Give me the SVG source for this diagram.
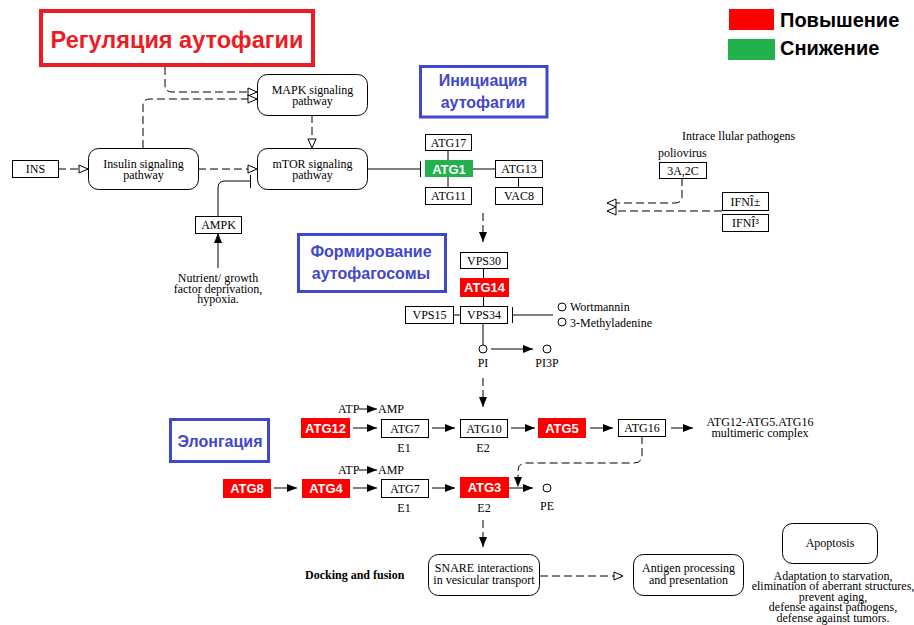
<svg xmlns="http://www.w3.org/2000/svg" width="914" height="625" viewBox="0 0 914 625">
<style>
.box{fill:#fff;stroke:#000;stroke-width:1}
.rbox{fill:#fff;stroke:#000;stroke-width:1}
.red{fill:#ff0000}
.grn{fill:#22b14c}
.t{font-family:"Liberation Serif","Times New Roman",serif;font-size:12px;text-anchor:middle;fill:#000}
.ts{font-family:"Liberation Serif","Times New Roman",serif;font-size:12px;fill:#000}
.w{font-family:"Liberation Sans",Arial,sans-serif;font-weight:bold;font-size:13px;fill:#fff;text-anchor:middle}
.lab{fill:#fff;stroke:#3f48cc;stroke-width:3}
.lt{font-family:"Liberation Sans",Arial,sans-serif;font-weight:bold;font-size:16px;fill:#3f48cc;text-anchor:middle}
.ln{stroke:#000;stroke-width:1;fill:none}
.ds{stroke-dasharray:8 4}
.circ{fill:#fff;stroke:#000;stroke-width:1}
</style>
<defs>
<marker id="af" viewBox="0 0 10 8" refX="10" refY="4" markerWidth="10" markerHeight="8" orient="auto" markerUnits="userSpaceOnUse"><path d="M0,0L10,4L0,8z" fill="#000"/></marker>
<marker id="ao" viewBox="-1 -1 11 10" refX="9" refY="4" markerWidth="11" markerHeight="10" orient="auto" markerUnits="userSpaceOnUse"><path d="M0,0L9,4L0,8z" fill="#fff" stroke="#000" stroke-width="1"/></marker>
</defs>
<rect width="914" height="625" fill="#fff"/>

<g id="title">
<rect x="41" y="11" width="272" height="54" fill="#fff" stroke="#ed1c24" stroke-width="4"/>
<text x="177" y="48" font-family="Liberation Sans,Arial,sans-serif" font-weight="bold" font-size="23.5" fill="#ed1c24" text-anchor="middle">Регуляция аутофагии</text>
</g>

<g id="legend">
<rect x="729" y="9" width="45" height="21" fill="#ff0000"/>
<rect x="728" y="39" width="47" height="21" fill="#22b14c"/>
<text x="780" y="27" font-family="Liberation Sans,Arial,sans-serif" font-weight="bold" font-size="20" fill="#000">Повышение</text>
<text x="780" y="55" font-family="Liberation Sans,Arial,sans-serif" font-weight="bold" font-size="20" fill="#000">Снижение</text>
</g>

<g id="label-init"><rect class="lab" x="420.5" y="66.5" width="126.5" height="50.5"/><text class="lt" x="483" y="86">Инициация</text><text class="lt" x="483" y="108">аутофагии</text></g>
<g id="label-form"><rect class="lab" x="298.5" y="234.5" width="147" height="57"/><text class="lt" x="371" y="257">Формирование</text><text class="lt" x="371" y="279">аутофагосомы</text></g>
<g id="label-elong"><rect class="lab" x="170.5" y="419.5" width="98" height="42"/><text class="lt" x="220" y="447">Элонгация</text></g>

<g id="connectors">
<path class="ln ds" d="M165,67V85Q165,92 172,92H257" marker-end="url(#ao)"/>
<path class="ln ds" d="M143,148V106Q143,99 150,99H257" marker-end="url(#ao)"/>
<path class="ln ds" d="M58,169H88" marker-end="url(#ao)"/>
<path class="ln ds" d="M198,169H257" marker-end="url(#ao)"/>
<path class="ln ds" d="M312,115V148" marker-end="url(#ao)"/>
<path class="ln" d="M218,216V188Q218,181 225,181H250"/>
<path class="ln" d="M250.5,175V188"/>
<path class="ln" d="M218,268V233" marker-end="url(#af)"/>
<path class="ln" d="M367,169H420"/>
<path class="ln" d="M420.5,161V177"/>
<path class="ln" d="M448,150V160M448,177V187M473,169H495M518.5,177V187"/>
<path class="ln ds" d="M483,213V242" marker-end="url(#af)"/>
<path class="ln" d="M483.5,268V278M483.5,297V306M453,315H460"/>
<path class="ln" d="M512.5,307V323M512.5,315H553"/>
<path class="ln" d="M483,323V345"/>
<path class="ln" d="M491,349H533" marker-end="url(#af)"/>
<path class="ln ds" d="M483,378V407" marker-end="url(#af)"/>
<path class="ln" d="M359,409H377" marker-end="url(#af)"/>
<path class="ln" d="M353,428H377" marker-end="url(#af)"/>
<path class="ln" d="M432,428H455" marker-end="url(#af)"/>
<path class="ln" d="M511,428H535" marker-end="url(#af)"/>
<path class="ln" d="M590,428H613" marker-end="url(#af)"/>
<path class="ln" d="M671,428H693" marker-end="url(#af)"/>
<path class="ln ds" d="M642,436V455Q642,463 634,463H526Q518,463 518,471V487" marker-end="url(#af)"/>
<path class="ln" d="M359,470H377" marker-end="url(#af)"/>
<path class="ln" d="M274,488H297" marker-end="url(#af)"/>
<path class="ln" d="M353,488H377" marker-end="url(#af)"/>
<path class="ln" d="M432,488H455" marker-end="url(#af)"/>
<path class="ln" d="M509,488H533" marker-end="url(#af)"/>
<path class="ln ds" d="M483,520V547" marker-end="url(#af)"/>
<path class="ln ds" d="M540,576H623" marker-end="url(#ao)"/>
<path class="ln ds" d="M682,178V196Q682,203 675,203H607" marker-end="url(#ao)"/>
<path class="ln ds" d="M722,211H607" marker-end="url(#ao)"/>
</g>

<g id="INS"><rect class="box" x="12.5" y="160.5" width="46" height="17"/><text class="t" x="35.5" y="173">INS</text></g>
<g id="insulin"><rect class="rbox" x="88.5" y="148.5" width="110" height="41" rx="10"/><text class="t" x="143.5" y="168">Insulin signaling</text><text class="t" x="143.5" y="179">pathway</text></g>
<g id="MAPK"><rect class="rbox" x="257.5" y="74.5" width="110" height="41" rx="10"/><text class="t" x="312.5" y="94">MAPK signaling</text><text class="t" x="312.5" y="105">pathway</text></g>
<g id="mTOR"><rect class="rbox" x="257.5" y="148.5" width="110" height="41" rx="10"/><text class="t" x="312.5" y="168">mTOR signaling</text><text class="t" x="312.5" y="179">pathway</text></g>
<g id="AMPK"><rect class="box" x="195.5" y="216.5" width="46" height="17"/><text class="t" x="218.5" y="229">AMPK</text></g>
<g id="nutrient"><text class="t" x="218" y="282">Nutrient/ growth</text><text class="t" x="218" y="293">factor deprivation,</text><text class="t" x="218" y="303">hypoxia.</text></g>

<g id="ATG17"><rect class="box" x="425.5" y="134.5" width="46" height="16"/><text class="t" x="448.5" y="147">ATG17</text></g>
<g id="ATG1"><rect class="grn" x="425" y="160" width="48" height="17"/><text class="w" x="449" y="174">ATG1</text></g>
<g id="ATG11"><rect class="box" x="425.5" y="187.5" width="46" height="17"/><text class="t" x="448.5" y="200">ATG11</text></g>
<g id="ATG13"><rect class="box" x="495.5" y="160.5" width="47" height="17"/><text class="t" x="519" y="173">ATG13</text></g>
<g id="VAC8"><rect class="box" x="495.5" y="187.5" width="47" height="17"/><text class="t" x="519" y="200">VAC8</text></g>

<g id="VPS30"><rect class="box" x="460.5" y="252.5" width="47" height="16"/><text class="t" x="484" y="265">VPS30</text></g>
<g id="ATG14"><rect class="red" x="460" y="278" width="49" height="19"/><text class="w" x="484.5" y="292">ATG14</text></g>
<g id="VPS34"><rect class="box" x="460.5" y="306.5" width="47" height="17"/><text class="t" x="484" y="319">VPS34</text></g>
<g id="VPS15"><rect class="box" x="405.5" y="306.5" width="48" height="17"/><text class="t" x="429.5" y="319">VPS15</text></g>
<g id="wortmannin"><circle class="circ" cx="562" cy="307" r="4"/><text class="ts" x="570" y="311">Wortmannin</text></g>
<g id="methyladenine"><circle class="circ" cx="562" cy="322" r="4"/><text class="ts" x="570" y="327">3-Methyladenine</text></g>
<g id="PI"><circle class="circ" cx="483" cy="349" r="4"/><text class="t" x="483" y="367">PI</text></g>
<g id="PI3P"><circle class="circ" cx="547" cy="349" r="4"/><text class="t" x="547" y="367">PI3P</text></g>

<g id="atp1"><text class="ts" x="338" y="413">ATP</text><text class="ts" x="378" y="413">AMP</text></g>
<g id="ATG12"><rect class="red" x="301" y="418" width="49" height="20"/><text class="w" x="325.5" y="433">ATG12</text></g>
<g id="ATG7a"><rect class="box" x="381.5" y="419.5" width="47" height="18"/><text class="t" x="405" y="433">ATG7</text><text class="t" x="404" y="452">E1</text></g>
<g id="ATG10"><rect class="box" x="460.5" y="419.5" width="47" height="18"/><text class="t" x="484" y="433">ATG10</text><text class="t" x="483" y="452">E2</text></g>
<g id="ATG5"><rect class="red" x="538" y="418" width="48" height="20"/><text class="w" x="562" y="433">ATG5</text></g>
<g id="ATG16"><rect class="box" x="618.5" y="419.5" width="47" height="17"/><text class="t" x="642" y="432">ATG16</text></g>
<g id="complex"><text class="t" x="760" y="426">ATG12-ATG5.ATG16</text><text class="t" x="760" y="437">multimeric complex</text></g>

<g id="atp2"><text class="ts" x="338" y="474">ATP</text><text class="ts" x="378" y="474">AMP</text></g>
<g id="ATG8"><rect class="red" x="223" y="479" width="48" height="19"/><text class="w" x="247" y="493">ATG8</text></g>
<g id="ATG4"><rect class="red" x="302" y="479" width="48" height="19"/><text class="w" x="326" y="493">ATG4</text></g>
<g id="ATG7b"><rect class="box" x="381.5" y="479.5" width="47" height="18"/><text class="t" x="405" y="493">ATG7</text><text class="t" x="404" y="512">E1</text></g>
<g id="ATG3"><rect class="red" x="460" y="477" width="49" height="21"/><text class="w" x="484.5" y="492">ATG3</text><text class="t" x="484" y="512">E2</text></g>
<g id="PE"><circle class="circ" cx="547" cy="488" r="4"/><text class="t" x="547" y="510">PE</text></g>

<g id="pathogens"><text class="ts" x="682" y="140">Intrace llular pathogens</text><text class="ts" x="658" y="157">poliovirus</text></g>
<g id="3A2C"><rect class="box" x="659.5" y="162.5" width="47" height="16"/><text class="t" x="683" y="175">3A,2C</text></g>
<g id="IFNa"><rect class="box" x="722.5" y="192.5" width="46" height="18"/><text class="t" x="745.5" y="206">IFNÎ±</text></g>
<g id="IFNg"><rect class="box" x="722.5" y="214.5" width="46" height="17"/><text class="t" x="745.5" y="227">IFNÎ³</text></g>

<g id="docking"><text class="ts" x="305" y="579" font-weight="bold">Docking and fusion</text></g>
<g id="SNARE"><rect class="rbox" x="428.5" y="554.5" width="111" height="41" rx="10"/><text class="t" x="484" y="572">SNARE interactions</text><text class="t" x="484" y="584">in vesicular transport</text></g>
<g id="antigen"><rect class="rbox" x="633.5" y="554.5" width="110" height="41" rx="10"/><text class="t" x="688.5" y="572">Antigen processing</text><text class="t" x="688.5" y="584">and presentation</text></g>
<g id="apoptosis"><rect class="rbox" x="782.5" y="523.5" width="95" height="40" rx="10"/><text class="t" x="830" y="547">Apoptosis</text></g>
<g id="functions"><text class="t" x="833" y="580">Adaptation to starvation,</text><text class="t" x="833" y="590">elimination of aberrant structures,</text><text class="t" x="833" y="601">prevent aging,</text><text class="t" x="833" y="611">defense against pathogens,</text><text class="t" x="833" y="622">defense against tumors.</text></g>
</svg>
